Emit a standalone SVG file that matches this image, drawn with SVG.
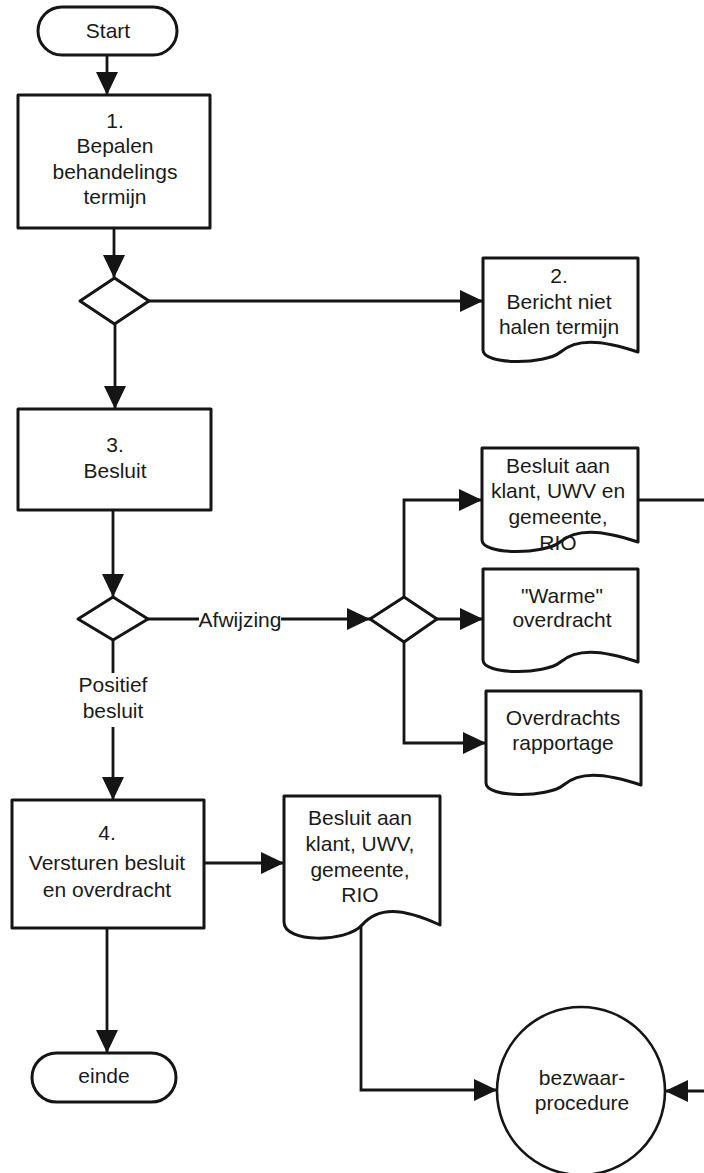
<svg xmlns="http://www.w3.org/2000/svg" width="704" height="1173" viewBox="0 0 704 1173">
<style>
.s{fill:#fff;stroke:#151515;stroke-width:3;stroke-linejoin:round}
.c{fill:none;stroke:#151515;stroke-width:2.8}
.t{font-family:"Liberation Sans",Arial,sans-serif;font-size:21px;fill:#1a1a1a;text-anchor:middle}
</style>
<defs>
<marker id="ah" markerUnits="userSpaceOnUse" markerWidth="24" markerHeight="24" refX="23" refY="11" orient="auto">
<path d="M0,0 L23,11 L0,22 Z" fill="#151515"/>
</marker>
</defs>
<g id="connectors">
<path class="c" d="M107,55 V95" marker-end="url(#ah)"/>
<path class="c" d="M114,228 V278" marker-end="url(#ah)"/>
<path class="c" d="M149,301 H483" marker-end="url(#ah)"/>
<path class="c" d="M115,323 V409" marker-end="url(#ah)"/>
<path class="c" d="M113,510 V597" marker-end="url(#ah)"/>
<path class="c" d="M148,619 H199 M281,619 H370" marker-end="url(#ah)"/>
<path class="c" d="M404,597 V500 H482" marker-end="url(#ah)"/>
<path class="c" d="M437,619 H483" marker-end="url(#ah)"/>
<path class="c" d="M404,642 V743 H486" marker-end="url(#ah)"/>
<path class="c" d="M113,640 V673 M113,727 V800" marker-end="url(#ah)"/>
<path class="c" d="M204,863 H284" marker-end="url(#ah)"/>
<path class="c" d="M107,928 V1053" marker-end="url(#ah)"/>
<path class="c" d="M361,925 V1090 H497" marker-end="url(#ah)"/>
<path class="c" d="M638,500 H712"/>
<path class="c" d="M712,1091 H665" marker-end="url(#ah)"/>
<text class="t" x="240" y="627">Afwijzing</text>
<text class="t" x="113" y="692">Positief</text>
<text class="t" x="113" y="718">besluit</text>
</g>
<g id="start">
<rect class="s" x="38" y="7" width="139" height="48" rx="24"/>
<text class="t" x="108" y="38">Start</text>
</g>
<g id="n1">
<rect class="s" x="18" y="95" width="192" height="133"/>
<text class="t" x="115" y="128">1.</text>
<text class="t" x="115" y="153">Bepalen</text>
<text class="t" x="115" y="179">behandelings</text>
<text class="t" x="115" y="204">termijn</text>
</g>
<g id="d1">
<polygon class="s" points="114.5,278 149,301 114.5,324 80,301"/>
</g>
<g id="n2">
<path class="s" d="M483,258 H638 V352 C599,339 576,339 560.5,352 C545,365 483,365 483,350 Z"/>
<text class="t" x="559" y="283">2.</text>
<text class="t" x="559" y="309">Bericht niet</text>
<text class="t" x="559" y="334">halen termijn</text>
</g>
<g id="n3">
<rect class="s" x="18" y="409" width="193" height="101"/>
<text class="t" x="115" y="452">3.</text>
<text class="t" x="115" y="478">Besluit</text>
</g>
<g id="d2">
<polygon class="s" points="113,597 148,619 113,640 78,619"/>
</g>
<g id="d3">
<polygon class="s" points="404,597 437,619 404,642 370,619"/>
</g>
<g id="docA">
<path class="s" d="M482,448 H638 V542 C599,529 576,529 560,542 C544,555 482,555 482,540 Z"/>
<text class="t" x="558" y="473">Besluit aan</text>
<text class="t" x="558" y="498">klant, UWV en</text>
<text class="t" x="558" y="524">gemeente,</text>
<text class="t" x="558" y="550">RIO</text>
</g>
<g id="warme">
<path class="s" d="M483,569 H638 V662 C599,649 576,649 560.5,662 C545,675 483,675 483,660 Z"/>
<text class="t" x="562" y="603">"Warme"</text>
<text class="t" x="562" y="627">overdracht</text>
</g>
<g id="overdrachts">
<path class="s" d="M486,691 H641 V785 C602,772 579,772 563.5,785 C548,798 486,798 486,783 Z"/>
<text class="t" x="563" y="725">Overdrachts</text>
<text class="t" x="563" y="750">rapportage</text>
</g>
<g id="n4">
<rect class="s" x="12" y="800" width="192" height="128"/>
<text class="t" x="107" y="840">4.</text>
<text class="t" x="107" y="870">Versturen besluit</text>
<text class="t" x="107" y="897">en overdracht</text>
</g>
<g id="docB">
<path class="s" d="M284,796 H440 V925 C401,907 378,907 362,925 C346,943 284,943 284,922 Z"/>
<text class="t" x="360" y="825">Besluit aan</text>
<text class="t" x="360" y="851">klant, UWV,</text>
<text class="t" x="360" y="877">gemeente,</text>
<text class="t" x="360" y="902">RIO</text>
</g>
<g id="einde">
<rect class="s" x="32" y="1053" width="144" height="49" rx="24.5"/>
<text class="t" x="104" y="1083">einde</text>
</g>
<g id="bezwaar">
<circle class="s" cx="581" cy="1091" r="84" style="stroke-width:2.6"/>
<text class="t" x="582" y="1085">bezwaar-</text>
<text class="t" x="582" y="1110">procedure</text>
</g>
</svg>
